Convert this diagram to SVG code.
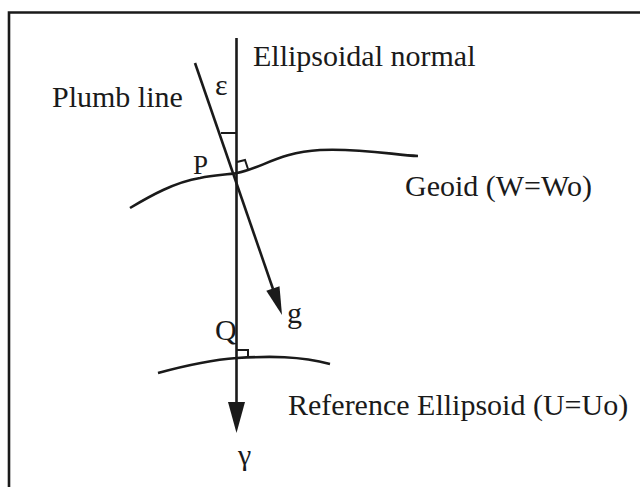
<svg xmlns="http://www.w3.org/2000/svg" width="640" height="487" viewBox="0 0 640 487">
<style>
.t{font-family:"Liberation Serif","Times New Roman",serif;font-size:30px;fill:#1a1a1a}
.s{font-size:27px}
.ln{stroke:#1a1a1a;stroke-width:2.6;fill:none}
.thin{stroke:#1a1a1a;stroke-width:2;fill:none}
.ah{fill:#1a1a1a;stroke:none}
</style>
<rect width="640" height="487" fill="#ffffff"/>
<g id="frame">
<path class="ln" d="M9,487 V12.5 H640"/>
</g>
<g id="geoid">
<path class="ln" d="M130,208 C150,196 175,182 200,178 C215,175 225,175 237,173 C260,169 280,152 320,150 C360,148 395,155 418,156"/>
<text class="t" x="405" y="196">Geoid (W=Wo)</text>
</g>
<g id="ellipsoid">
<path class="ln" d="M158,373 C180,367 210,360 237,358 C270,356 300,356 330,364"/>
<text class="t" x="288" y="415">Reference Ellipsoid (U=Uo)</text>
</g>
<g id="labels">
<text class="t" x="52" y="107">Plumb line</text>
<text class="t" x="253" y="66">Ellipsoidal normal</text>
<text class="t" x="215" y="95">ε</text>
<text class="t s" x="193" y="174">P</text>
<text class="t" x="215" y="340">Q</text>
<text class="t" x="287" y="323">g</text>
<text class="t" x="238" y="465">γ</text>
</g>
<g id="connectors">
<line class="ln" x1="236.5" y1="38" x2="236.5" y2="405"/>
<polygon class="ah" points="228,402 245,402 236.5,433"/>
<line class="ln" x1="195" y1="63" x2="273" y2="289"/>
<polygon class="ah" points="279.5,286.2 266.3,290.8 282,315"/>
<path class="thin" d="M221,133 H236.5"/>
<path class="thin" d="M237,162 L245,160 L248,169"/>
<path class="thin" d="M237,350 H248 V358"/>
</g>
</svg>
